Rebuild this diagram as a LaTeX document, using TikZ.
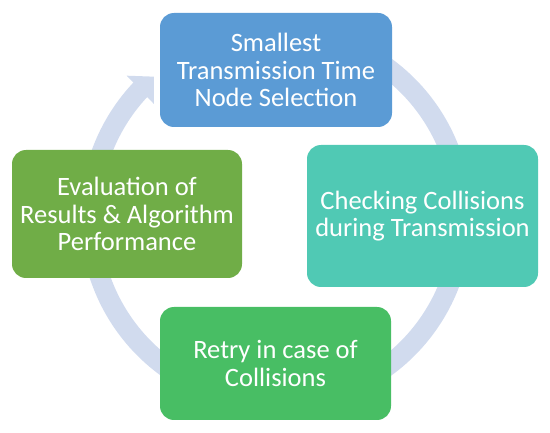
\documentclass[tikz,border=0pt]{standalone}
\usepackage{fontspec}
\setmainfont{Carlito}
\usepackage{tikz}
\usetikzlibrary{arrows.meta, bending, positioning}
\definecolor{ringcol}{RGB}{209,219,238}
\definecolor{selblue}{RGB}{91,155,213}
\definecolor{checkteal}{RGB}{80,201,180}
\definecolor{retrygreen}{RGB}{72,190,100}
\definecolor{evalgreen}{RGB}{112,173,71}
\tikzset{
  stage/.style={
    rectangle, rounded corners=14pt, draw=none, text=white,
    align=center, inner sep=0pt, font=\fontsize{26.5}{27.5}\selectfont
  },
  cycle ring/.style={
    draw=ringcol, line width=20pt,
    -{Triangle[length=19pt, width=38pt, flex]}
  },
}
\begin{document}
\begin{tikzpicture}[x=1pt, y=1pt]
  \useasboundingbox (0,0) rectangle (550,-433);
  \coordinate (C) at (276,-217);

  % circular arrow behind the stages
  \draw[cycle ring] (C) ++(110:186) arc[start angle=110, end angle=-229, radius=186];

  \node[stage, fill=selblue, minimum width=232pt, minimum height=114pt] (SEL) at (276,-70)
    {Smallest\\Transmission Time\\Node Selection};
  \node[stage, fill=checkteal, minimum width=231pt, minimum height=142pt] (CHK) at (422.5,-216)
    {Checking Collisions\\during Transmission};
  \node[stage, fill=retrygreen, minimum width=231pt, minimum height=113pt] (RTY) at (275.5,-363.5)
    {Retry in case of\\Collisions};
  \node[stage, fill=evalgreen, minimum width=230pt, minimum height=128pt] (EVAL) at (127,-214)
    {Evaluation of\\Results \& Algorithm\\Performance};
\end{tikzpicture}
\end{document}
